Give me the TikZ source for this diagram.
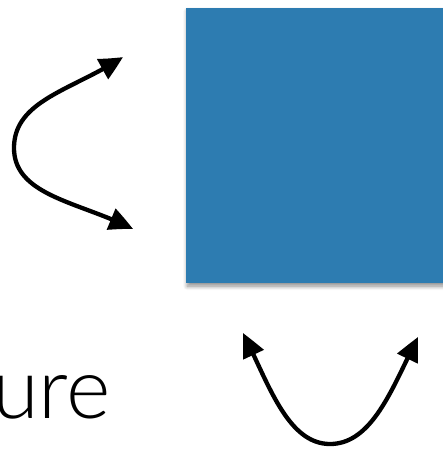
\documentclass[tikz,border=0pt]{standalone}
\usepackage{fontspec}
\setmainfont{Lato Light}
\usetikzlibrary{arrows.meta,bending,shadows.blur}
\definecolor{paperblue}{RGB}{45,124,177}
\tikzset{
  dblarrow/.style={line width=4.3pt, {Triangle[length=24pt,width=22pt,bend]}-{Triangle[length=24pt,width=22pt,bend]}},
  bluesq/.style={fill=paperblue, draw=none, inner sep=0pt, blur shadow={shadow xshift=1pt, shadow yshift=-3pt, shadow blur radius=4pt, shadow blur steps=8, shadow opacity=45}},
  bigtext/.style={font=\fontsize{85}{95}\selectfont, inner sep=0pt}
}
\begin{document}
\begin{tikzpicture}[x=1pt,y=-1pt]
\useasboundingbox (0,0) rectangle (443,451);
\node[bluesq, minimum width=270pt, minimum height=275pt, anchor=north west] (sq) at (186,8) {};
\coordinate (la) at (123,57);
\coordinate (lm) at (14,148);
\coordinate (lb) at (133,229);
\draw[dblarrow] (la) .. controls (73,90) and (14,100) .. (lm) .. controls (14,196) and (80,202) .. (lb);
\coordinate (ba) at (243,333);
\coordinate (bm) at (330,444);
\coordinate (bb) at (418,337);
\draw[dblarrow] (ba) .. controls (268,382) and (287,444) .. (bm) .. controls (373,444) and (393,386) .. (bb);
\node[bigtext, anchor=base east] (txt) at (111,418) {ure};
\end{tikzpicture}
\end{document}
